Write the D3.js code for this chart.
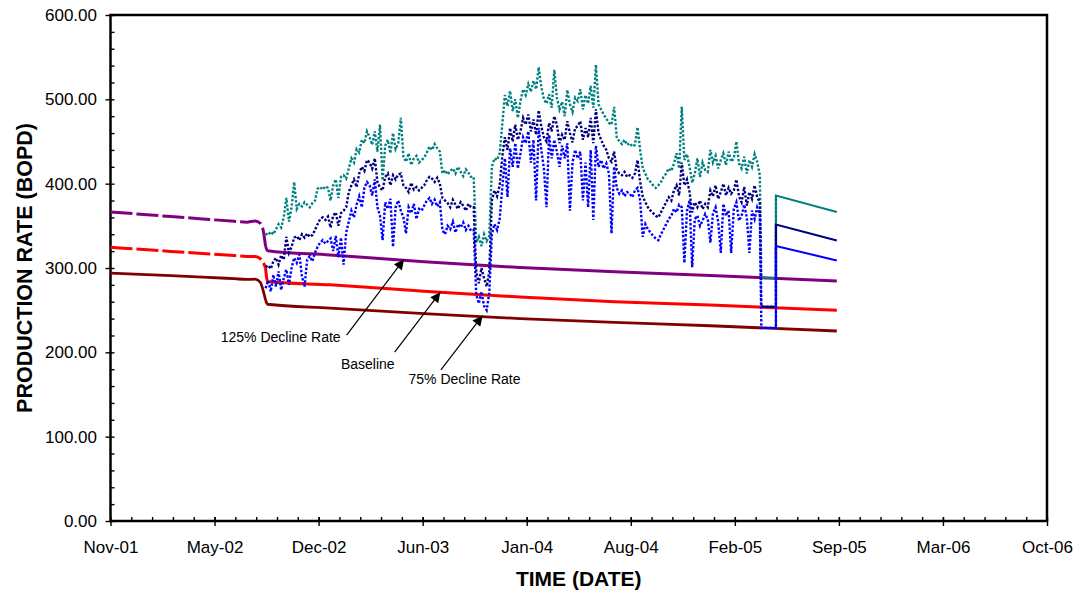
<!DOCTYPE html>
<html>
<head>
<meta charset="utf-8">
<script src="https://cdn.jsdelivr.net/npm/d3@7"></script>
<style>
  html, body { margin: 0; padding: 0; background: #fff; }
  svg { display: block; font-family: "Liberation Sans", Arial, sans-serif; }
</style>
</head>
<body>
<svg id="chart" width="1078" height="595"></svg>
<script>
// ---------------- data ----------------
// axis
const xDomain = ["2001-11-05", "2006-10-10"];
const xTickDates = ["2001-11-05", "2002-05-24", "2002-12-10", "2003-06-28", "2004-01-14",
                    "2004-08-01", "2005-02-17", "2005-09-05", "2006-03-24", "2006-10-10"];
const xTickLabels = ["Nov-01", "May-02", "Dec-02", "Jun-03", "Jan-04",
                     "Aug-04", "Feb-05", "Sep-05", "Mar-06", "Oct-06"];
const yTicks = [0, 100, 200, 300, 400, 500, 600];
const yTickLabels = ["0.00", "100.00", "200.00", "300.00", "400.00", "500.00", "600.00"];

// decline curves (BOPD)
const curveDates = ["2001-11-05", "2002-01-01", "2002-03-01", "2002-05-01", "2002-07-01", "2002-07-25",
                    "2002-08-10", "2002-08-20", "2002-08-26", "2002-08-30", "2002-09-03", "2003-01-01",
                    "2003-07-01", "2004-01-01", "2004-07-01", "2005-01-01", "2005-09-01"];
const decline125 = [366.5, 363.8, 361, 358.2, 355.3, 354.3, 355.8, 353, 343, 326, 320.5, 315.5,
                    307.5, 300.5, 295.5, 291, 284.7];
const baseline   = [324.5, 322.1, 319.7, 317.2, 314.7, 313.7, 313.5, 311, 306, 300, 284, 280,
                    272.5, 265.5, 260, 256, 250];
const decline75  = [294, 292.5, 291, 289.3, 287.3, 286.5, 286.7, 283, 272, 262, 257, 252.5,
                    246, 240, 235.5, 231.5, 225.3];
const historyEnd = "2002-08-30";

// measured well rates, one reading every 5 days from 2002-08-30
const measuredStart = "2002-08-30";
const measuredStepDays = 5;
const rateHigh = [
  341, 339, 343, 340, 346, 352, 348, 360, 383, 355,
  372, 402, 370, 376, 373, 378, 375, 372, 377, 380,
  394, 396, 393, 397, 395, 380, 398, 405, 383, 408,
  410, 406, 418, 430, 425, 441, 437, 452, 448, 462,
  455, 446, 462, 438, 470, 404, 445, 452, 436, 460,
  441, 448, 478, 432, 426, 436, 422, 430, 433, 425,
  428, 431, 437, 444, 440, 447, 442, 438, 412, 416,
  411, 415, 418, 412, 420, 414, 409, 417, 413, 408,
  408, 330, 337, 326, 340, 332, 338, 420, 430, 428,
  436, 470, 505, 492, 510, 486, 500, 478, 498, 512,
  505, 518, 509, 522, 512, 538, 515, 500, 495, 506,
  490, 535, 502, 488, 497, 480, 511, 494, 485, 502,
  498, 512, 488, 505, 495, 516, 490, 541, 494, 488,
  482, 477, 472, 470, 491, 455, 450, 447, 452, 446,
  448, 444, 446, 467, 440, 418, 412, 405, 402, 398,
  395, 398, 402, 408, 412, 418, 415, 424, 436, 418,
  491, 428, 435, 420, 401, 412, 430, 408, 425, 416,
  414, 440, 425, 433, 418, 428, 436, 422, 438, 426,
  430, 450, 424, 418, 432, 412, 428, 420, 435, 426,
  410];
const rateMid = [
  301, 303, 299, 308, 312, 304, 315, 310, 337, 318,
  325, 336, 338, 333, 340, 336, 341, 337, 339, 345,
  352, 358, 360, 357, 361, 348, 362, 366, 350, 365,
  368, 372, 390, 398, 405, 396, 412, 420, 415, 428,
  425, 418, 430, 402, 395, 392, 408, 412, 398, 410,
  405, 411, 412, 398, 395, 390, 401, 393, 396, 392,
  395, 398, 404, 408, 406, 402, 407, 400, 383, 380,
  377, 372, 381, 375, 370, 378, 374, 368, 376, 372,
  372, 295, 282, 300, 288, 278, 296, 380, 392, 385,
  398, 432, 455, 440, 466, 450, 470, 452, 462, 478,
  470, 482, 462, 476, 458, 487, 468, 455, 450, 472,
  462, 480, 470, 448, 458, 452, 474, 460, 449, 466,
  468, 474, 452, 466, 455, 478, 448, 488, 460, 452,
  445, 440, 430, 426, 438, 416, 412, 410, 414, 408,
  410, 407, 412, 428, 402, 385, 378, 372, 368, 365,
  362, 360, 366, 372, 378, 384, 380, 392, 398, 386,
  425, 398, 405, 390, 366, 378, 372, 380, 370, 376,
  372, 392, 385, 398, 382, 390, 400, 386, 395, 388,
  392, 405, 385, 378, 396, 374, 390, 382, 398, 384,
  378];
const rateLow = [
  276, 285, 272, 292, 278, 296, 274, 288, 298, 280,
  300, 312, 306, 316, 290, 278, 310, 314, 308, 318,
  325, 330, 333, 329, 332, 335, 320, 338, 313, 336,
  304, 342, 355, 368, 360, 375, 385, 372, 395, 402,
  398, 386, 405, 372, 362, 333, 378, 370, 382, 325,
  372, 380, 368, 360, 341, 372, 365, 376, 358, 370,
  368, 374, 380, 383, 376, 381, 373, 378, 345, 340,
  350, 346, 355, 342, 352, 348, 354, 345, 350, 344,
  345, 268, 258, 272, 255, 250, 270, 340, 352, 345,
  358, 395, 430, 384, 442, 420, 448, 418, 436, 455,
  448, 462, 425, 452, 380, 466, 440, 418, 372, 458,
  430, 452, 438, 420, 445, 430, 448, 368, 425, 440,
  430, 438, 380, 425, 372, 440, 357, 445, 420, 428,
  418, 424, 412, 341, 420, 395, 388, 392, 385, 390,
  388, 384, 392, 395, 380, 337, 352, 346, 342, 338,
  335, 333, 340, 346, 352, 358, 362, 370, 366, 375,
  372, 306, 368, 380, 301, 358, 362, 350, 356, 364,
  358, 330, 365, 372, 355, 318, 376, 362, 368, 318,
  370, 378, 356, 362, 375, 360, 318, 368, 358, 372,
  364];

// shut-in period and forecast after it
const shutInDates = ["2005-04-09", "2005-05-07"];
const shutInHigh = [288, 288];
const shutInMid  = [254, 254];
const shutInLow  = [229, 229];
const forecastDates = ["2005-05-07", "2005-09-01"];
const forecastHigh = [386, 366.5];
const forecastMid  = [351.5, 332.5];
const forecastLow  = [326, 309];

// callouts: label, arrow target (date, rate)
const calloutLabels = ["125% Decline Rate", "Baseline", "75% Decline Rate"];
const calloutDates  = ["2003-05-23", "2003-08-01", "2003-10-21"];
const calloutRates  = [310.2, 271.3, 243.5];

// ---------------- drawing ----------------
const parse = d3.utcParse("%Y-%m-%d");
const svg = d3.select("#chart");

const plot = { left: 110.5, right: 1047, top: 15, bottom: 521 };

const x = d3.scaleUtc()
  .domain(xDomain.map(parse))
  .range([plot.left, plot.right]);
const y = d3.scaleLinear()
  .domain([0, 600])
  .range([plot.bottom, plot.top]);

const pts = (dates, vals) => dates.map((d, i) => ({ date: parse(d), v: vals[i] }));

// minor ticks (inside), major ticks (outside)
const yMinor = d3.range(0, 601, 20);
const majorX = xTickDates.map(parse);
const xMinor = [];
for (let i = 0; i < majorX.length - 1; i++) {
  for (let k = 0; k <= 5; k++) xMinor.push(d3.utcDay.offset(majorX[i], k * 40));
}

const gyMinor = svg.append("g")
  .attr("transform", `translate(${plot.left},0)`)
  .call(d3.axisRight(y).tickValues(yMinor).tickSize(4).tickFormat(""));
const gxMinor = svg.append("g")
  .attr("transform", `translate(0,${plot.bottom})`)
  .call(d3.axisTop(x).tickValues(xMinor).tickSize(4).tickFormat(""));

const gy = svg.append("g")
  .attr("transform", `translate(${plot.left},0)`)
  .call(d3.axisLeft(y).tickValues(yTicks).tickSize(5).tickPadding(8.5)
    .tickFormat((d, i) => yTickLabels[i]));
const gx = svg.append("g")
  .attr("transform", `translate(0,${plot.bottom})`)
  .call(d3.axisBottom(x).tickValues(majorX).tickSize(5).tickPadding(14.5)
    .tickFormat((d, i) => xTickLabels[i]));

[gy, gx, gyMinor, gxMinor].forEach(g => {
  g.select(".domain").remove();
  g.selectAll("line").attr("stroke", "#000").attr("stroke-width", 1.4);
  g.selectAll("text")
    .attr("fill", "#000")
    .style("font-family", "'Liberation Sans', Arial, sans-serif")
    .style("font-size", "17px");
});

// frame
svg.append("rect")
  .attr("x", plot.left).attr("y", plot.top)
  .attr("width", plot.right - plot.left).attr("height", plot.bottom - plot.top)
  .attr("fill", "none").attr("stroke", "#000").attr("stroke-width", 2.5);

// decline curves: dashed up to the end of history, solid afterwards
const smooth = d3.line().x(d => x(d.date)).y(d => y(d.v)).curve(d3.curveMonotoneX);
const splitIdx = curveDates.indexOf(historyEnd);
const curves = [
  { vals: decline75,  color: "#800000", width: 2.8, dash: null },
  { vals: baseline,   color: "#FF0000", width: 3,   dash: "22,4" },
  { vals: decline125, color: "#800080", width: 3,   dash: "22,4" }
];
curves.forEach(c => {
  const all = pts(curveDates, c.vals);
  svg.append("path")
    .attr("d", smooth(all.slice(0, splitIdx + 1)))
    .attr("fill", "none").attr("stroke", c.color).attr("stroke-width", c.width)
    .attr("stroke-dasharray", c.dash);
  svg.append("path")
    .attr("d", smooth(all.slice(splitIdx)))
    .attr("fill", "none").attr("stroke", c.color).attr("stroke-width", c.width);
});

// measured rates (square dots), shut-in and forecast (solid)
const lin = d3.line().x(d => x(d.date)).y(d => y(d.v));
const mStart = parse(measuredStart);
const measuredDates = rateHigh.map((_, i) => d3.utcDay.offset(mStart, i * measuredStepDays));
const rates = [
  { hist: rateHigh, shut: shutInHigh, fc: forecastHigh, color: "#008080" },
  { hist: rateMid,  shut: shutInMid,  fc: forecastMid,  color: "#000080" },
  { hist: rateLow,  shut: shutInLow,  fc: forecastLow,  color: "#0000FF" }
];
rates.forEach(r => {
  const hist = r.hist.map((v, i) => ({ date: measuredDates[i], v }));
  const shut = pts(shutInDates, r.shut);
  const fc = pts(forecastDates, r.fc);
  svg.append("path")
    .attr("d", lin(hist.concat(shut, [fc[0]])))
    .attr("fill", "none").attr("stroke", r.color).attr("stroke-width", 2.4)
    .attr("stroke-dasharray", "2.4,1.8");
  svg.append("path")
    .attr("d", lin(shut.concat(fc)))
    .attr("fill", "none").attr("stroke", r.color).attr("stroke-width", 2);
});

// callouts
const defs = svg.append("defs");
defs.append("marker")
  .attr("id", "head").attr("viewBox", "0 0 10 10")
  .attr("refX", 10).attr("refY", 5)
  .attr("markerWidth", 13).attr("markerHeight", 10)
  .attr("markerUnits", "userSpaceOnUse")
  .attr("orient", "auto")
  .append("path").attr("d", "M0,0 L10,5 L0,10 Z").attr("fill", "#000");

const tails = [[-57.3, 75.7], [-45.7, 60], [-41.6, 54.3]];
const labelPos = [
  { dx: -6, dy: 7, anchor: "end" },
  { dx: 0, dy: 17, anchor: "end" },
  { dx: -32.4, dy: 14, anchor: "start" }
];
calloutLabels.forEach((lab, i) => {
  const tx = x(parse(calloutDates[i])), ty = y(calloutRates[i]);
  const sx = tx + tails[i][0], sy = ty + tails[i][1];
  svg.append("line")
    .attr("x1", sx).attr("y1", sy).attr("x2", tx).attr("y2", ty)
    .attr("stroke", "#000").attr("stroke-width", 1.2)
    .attr("marker-end", "url(#head)");
  svg.append("text")
    .attr("x", sx + labelPos[i].dx).attr("y", sy + labelPos[i].dy)
    .attr("text-anchor", labelPos[i].anchor)
    .style("font-size", "14px").attr("fill", "#000")
    .text(lab);
});

// axis titles
svg.append("text")
  .attr("transform", `translate(32,${(plot.top + plot.bottom) / 2}) rotate(-90)`)
  .attr("text-anchor", "middle")
  .style("font-size", "21.5px").style("font-weight", "bold")
  .text("PRODUCTION RATE (BOPD)");
svg.append("text")
  .attr("x", (plot.left + plot.right) / 2).attr("y", 586)
  .attr("text-anchor", "middle")
  .style("font-size", "21px").style("font-weight", "bold")
  .text("TIME (DATE)");
</script>
</body>
</html>
